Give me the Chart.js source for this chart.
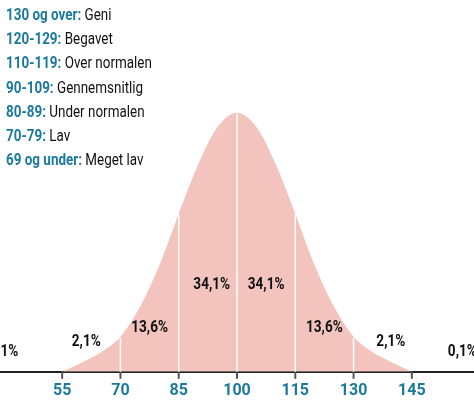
<!DOCTYPE html>
<html><head><meta charset="utf-8">
<script src="https://cdn.jsdelivr.net/npm/chart.js@4"></script>
<style>
html,body{margin:0;padding:0;background:#fff;width:474px;height:411px;overflow:hidden}
#wrap{position:relative;width:474px;height:411px}
#leg{position:absolute;left:6px;top:3px;font-family:Roboto,sans-serif;font-size:16px;line-height:24.2px;color:#111;transform:scaleX(0.84);transform-origin:0 0;white-space:nowrap}
#leg b{color:#1b7a9c}
</style></head><body>
<div id="wrap"><canvas id="c" width="474" height="411"></canvas>
<div id="leg"></div></div>
<script>
const iqValues=[55,60,65,70,75,80,85,90,95,100,105,110,115,120,125,130,135,140,145];
const curveHeights=[0,0.035,0.075,0.135,0.25,0.41,0.61,0.80,0.945,1,0.945,0.80,0.61,0.41,0.25,0.135,0.075,0.035,0];
const tickLabels=[55,70,85,100,115,130,145];
const dividers=[70,85,100,115,130];
const pctLabels=[{x:40,y:0.077,t:'0,1%'},{x:61.2,y:0.115,t:'2,1%'},{x:77.5,y:0.17,t:'13,6%'},{x:93.5,y:0.335,t:'34,1%'},{x:107.5,y:0.335,t:'34,1%'},{x:122.5,y:0.17,t:'13,6%'},{x:139.6,y:0.115,t:'2,1%'},{x:158,y:0.077,t:'0,1%'}];
const legendRanges=['130 og over:','120-129:','110-119:','90-109:','80-89:','70-79:','69 og under:'];
const legendNames=['Geni','Begavet','Over normalen','Gennemsnitlig','Under normalen','Lav','Meget lav'];
document.getElementById('leg').innerHTML=legendRanges.map((r,i)=>'<div><b>'+r+'</b> '+legendNames[i]+'</div>').join('');
const F="Roboto,sans-serif";
const overlay={id:'ov',afterDatasetsDraw(ch){
 const c=ch.ctx,xs=ch.scales.x,ys=ch.scales.y;
 c.save();c.strokeStyle='#fff';c.lineWidth=1.5;
 dividers.forEach(d=>{const v=curveHeights[iqValues.indexOf(d)];c.beginPath();c.moveTo(xs.getPixelForValue(d),ys.getPixelForValue(0));c.lineTo(xs.getPixelForValue(d),ys.getPixelForValue(v)+1);c.stroke();});
 c.fillStyle='#111';c.font='bold 16px '+F;c.textAlign='center';c.textBaseline='middle';
 pctLabels.forEach(p=>{c.save();c.translate(xs.getPixelForValue(p.x),ys.getPixelForValue(p.y));c.scale(0.85,1);c.fillText(p.t,0,0);c.restore();});
 c.strokeStyle='#555';c.lineWidth=2;
 tickLabels.forEach(t=>{const x=xs.getPixelForValue(t),y=ys.getPixelForValue(0);c.beginPath();c.moveTo(x,y);c.lineTo(x,y+7);c.stroke();});
 c.restore();}};
new Chart(document.getElementById('c'),{type:'line',
 data:{datasets:[{data:iqValues.map((x,i)=>({x,y:curveHeights[i]})),fill:'origin',backgroundColor:'#f2c4bd',borderWidth:0,pointRadius:0,tension:0.4,cubicInterpolationMode:'monotone'}]},
 options:{responsive:false,animation:false,layout:{padding:{top:0,bottom:0,left:0,right:0}},
 plugins:{legend:{display:false},tooltip:{enabled:false}},
 scales:{x:{type:'linear',min:39,max:161,grid:{display:false,drawTicks:false},border:{color:'#222',width:2},
   afterBuildTicks(a){a.ticks=tickLabels.map(v=>({value:v}));},
   ticks:{padding:10,color:'#1b7a9c',font:{family:F,size:16,weight:'bold'},autoSkip:false,maxRotation:0}},
  y:{min:0,max:1.435,display:false}}},
 plugins:[overlay]});
</script></body></html>
